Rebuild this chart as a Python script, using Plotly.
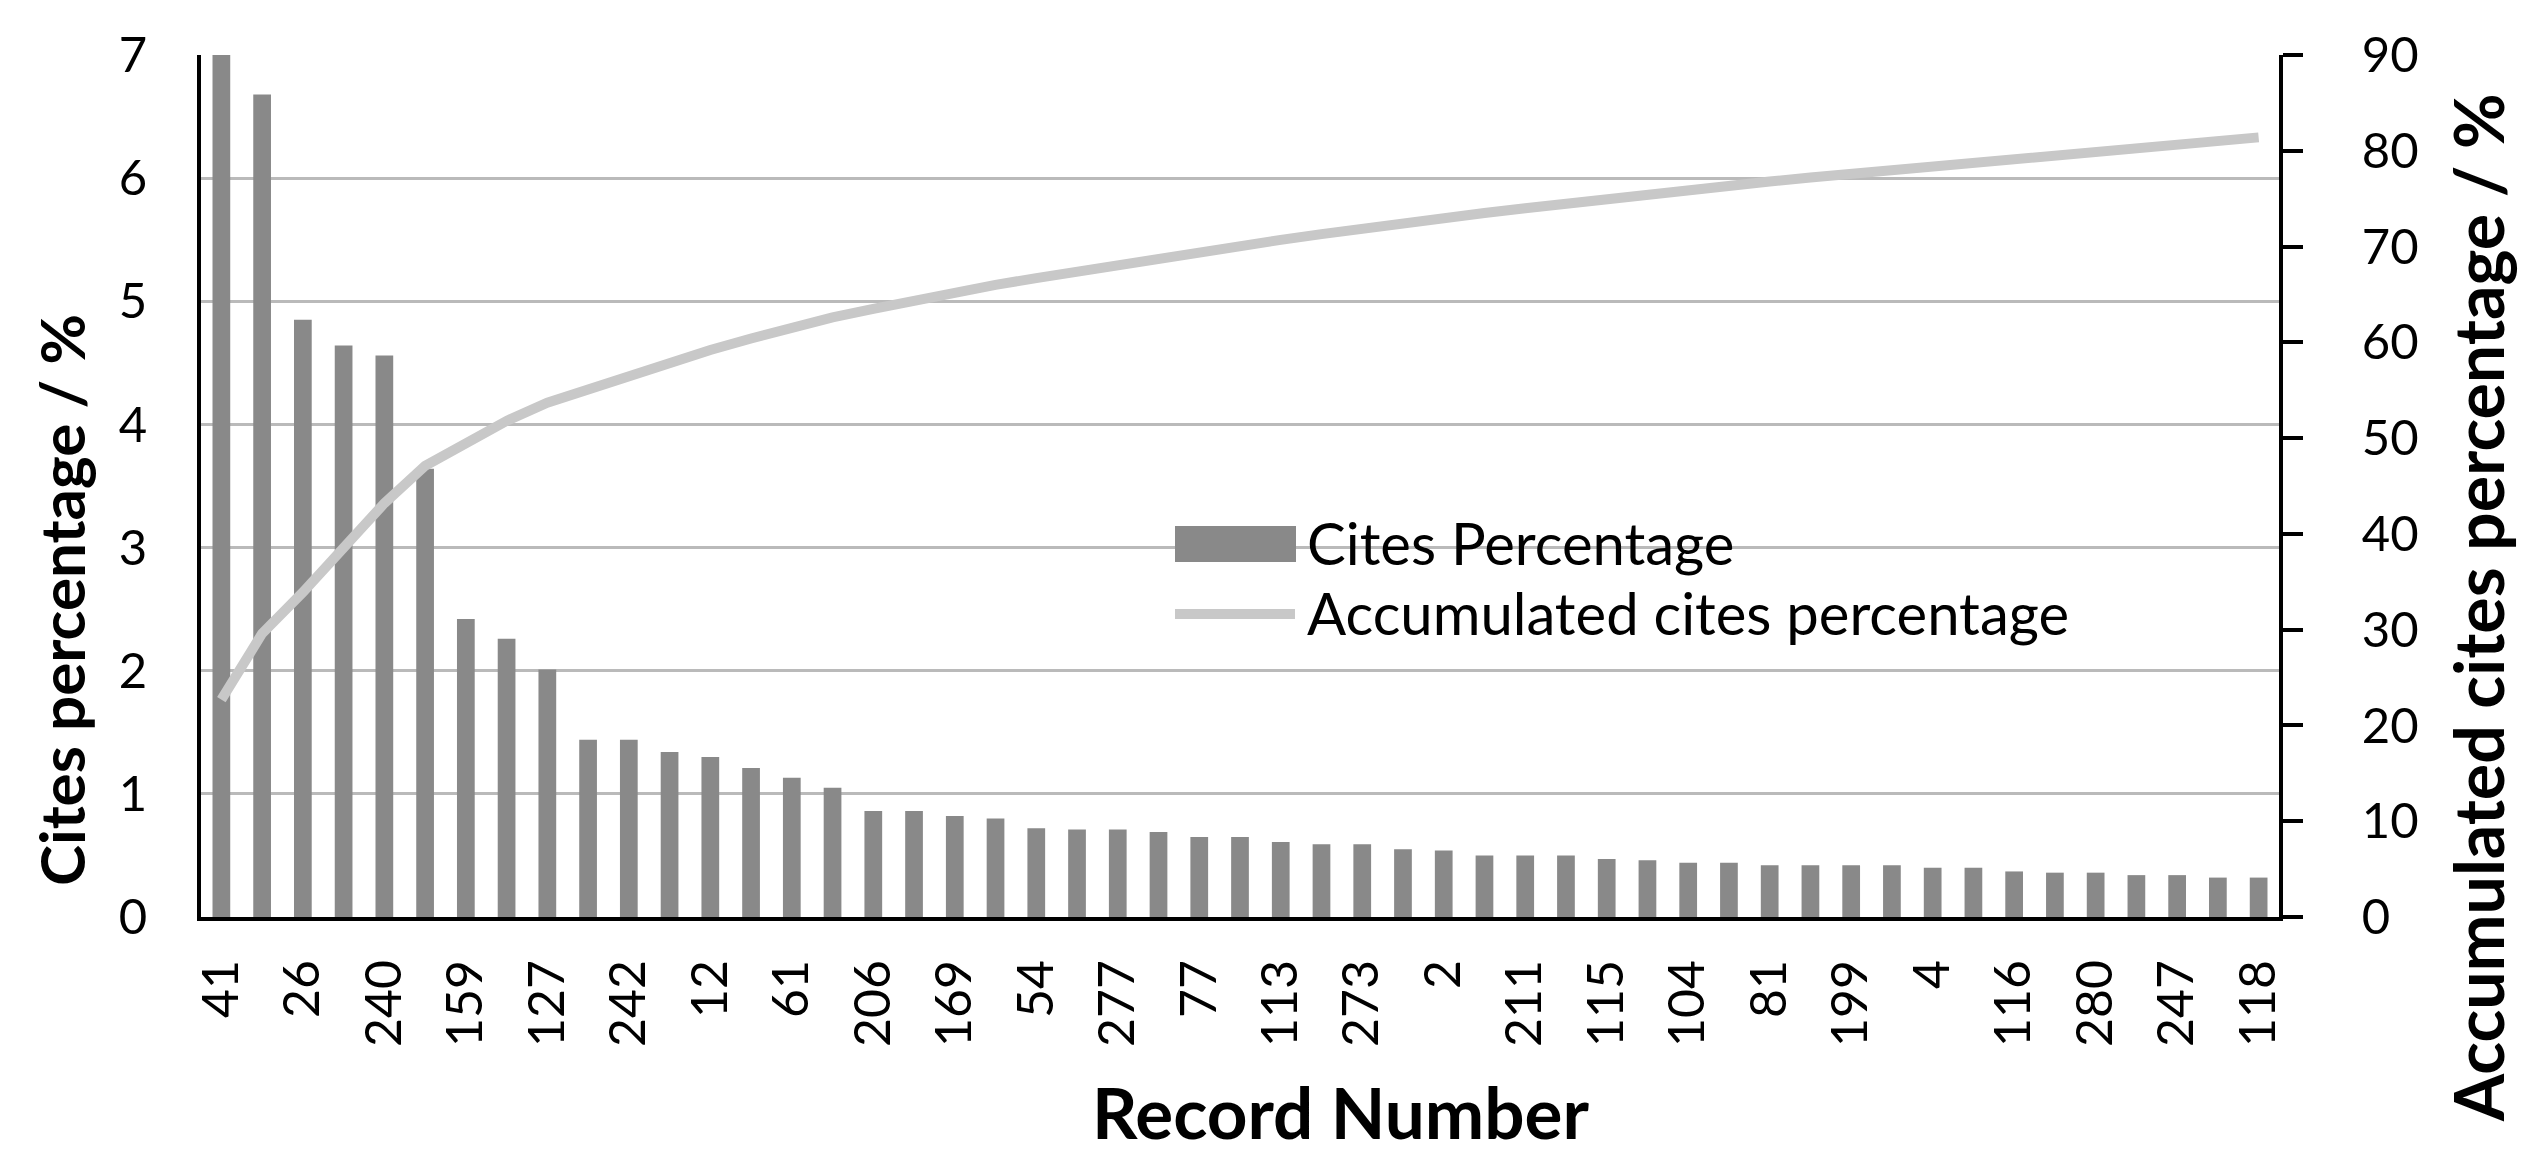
import plotly.graph_objects as go

# ---- data ----
record_labels = ["41", "26", "240", "159", "127", "242", "12", "61", "206", "169",
                 "54", "277", "77", "113", "273", "2", "211", "115", "104", "81",
                 "199", "4", "116", "280", "247", "118"]
positions = list(range(51))          # 51 records; every other one is labelled
label_positions = positions[::2]

cites_pct = [22.65, 6.68, 4.85, 4.64, 4.56, 3.64, 2.42, 2.26, 2.01, 1.44,
             1.44, 1.34, 1.30, 1.21, 1.13, 1.05, 0.86, 0.86, 0.82, 0.80,
             0.72, 0.71, 0.71, 0.69, 0.65, 0.65, 0.61, 0.59, 0.59, 0.55,
             0.54, 0.50, 0.50, 0.50, 0.47, 0.46, 0.44, 0.44, 0.42, 0.42,
             0.42, 0.42, 0.40, 0.40, 0.37, 0.36, 0.36, 0.34, 0.34, 0.32,
             0.32]

accum_pct = [22.7, 29.6, 33.9, 38.6, 43.2, 47.1, 49.5, 51.8, 53.7, 55.1,
             56.5, 57.9, 59.2, 60.4, 61.6, 62.6, 63.5, 64.4, 65.2, 66.0,
             66.7, 67.4, 68.1, 68.8, 69.5, 70.1, 70.7, 71.3, 71.9, 72.5,
             73.0, 73.5, 74.0, 74.5, 75.0, 75.5, 75.9, 76.4, 76.8, 77.2,
             77.6, 78.0, 78.4, 78.8, 79.2, 79.6, 80.0, 80.3, 80.7, 81.0,
             81.4]

left_ticks = list(range(0, 8))
right_ticks = list(range(0, 100, 10))

# ---- style ----
FONT = "Lato"
BAR_COLOR = "#898989"
LINE_COLOR = "#c8c8c8"
GRID_COLOR = "#bababa"

OFF = 8                      # default page body margin
W, H = 2532 - 2 * OFF, 1164 - 2 * OFF
PL, PR, PT, PB = 201, 2279, 55, 917      # plot area in page pixels
ML, MR, MT, MB = PL - OFF, W - (PR - OFF), PT - OFF, H - (PB - OFF)


def px_x(p):
    return (p - PL) / (PR - PL)


def px_y(p):
    return (PB - p) / (PB - PT)


fig = go.Figure()
fig.add_trace(go.Bar(
    x=positions, y=cites_pct, name="Cites Percentage",
    marker=dict(color=BAR_COLOR, line=dict(width=0)),
    yaxis="y", showlegend=False,
))
fig.add_trace(go.Scatter(
    x=positions, y=accum_pct, name="Accumulated cites percentage",
    mode="lines", line=dict(color=LINE_COLOR, width=10),
    yaxis="y2", showlegend=False,
))

fig.update_layout(
    width=W, height=H,
    margin=dict(l=ML, r=MR, t=MT, b=MB, pad=0),
    paper_bgcolor="white", plot_bgcolor="white",
    font=dict(family=FONT, color="black"),
    bargap=0.565,
    xaxis=dict(
        range=[-0.5, 50.5],
        tickmode="array", tickvals=label_positions, ticktext=record_labels,
        tickangle=-90, tickfont=dict(size=50, family=FONT),
        ticks="", showgrid=False, zeroline=False,
        showline=True, linecolor="black", linewidth=4,
        ticklabelstandoff=19,
    ),
    yaxis=dict(
        range=[0, 7], tickmode="array", tickvals=left_ticks,
        tickfont=dict(size=49, family=FONT),
        ticks="", showgrid=True, gridcolor=GRID_COLOR, gridwidth=3,
        zeroline=False, showline=True, linecolor="black", linewidth=4,
        ticklabelstandoff=40,
    ),
    yaxis2=dict(
        range=[0, 90], tickmode="array", tickvals=right_ticks,
        overlaying="y", side="right", anchor="x",
        tickfont=dict(size=49, family=FONT),
        ticks="outside", ticklen=20, tickwidth=4, tickcolor="black",
        showgrid=False, zeroline=False,
        showline=True, linecolor="black", linewidth=4,
        ticklabelstandoff=49,
    ),
)

# ---- axis titles (placed where the reference has them) ----
fig.add_annotation(text="<b>Record Number</b>", xref="paper", yref="paper",
                   x=px_x(1340), y=px_y(1111), xanchor="center", yanchor="middle",
                   showarrow=False, font=dict(size=71, family=FONT, color="black"))
fig.add_annotation(text="<b>Cites percentage / %</b>", xref="paper", yref="paper",
                   x=px_x(61), y=px_y(600), xanchor="center", yanchor="middle",
                   textangle=-90, showarrow=False,
                   font=dict(size=62, family=FONT, color="black"))
fig.add_annotation(text="<b>Accumulated cites percentage / %</b>", xref="paper", yref="paper",
                   x=px_x(2477), y=px_y(608), xanchor="center", yanchor="middle",
                   textangle=-90, showarrow=False,
                   font=dict(size=68, family=FONT, color="black"))

# ---- legend drawn inside the plot (as in the reference) ----
fig.add_shape(type="rect", xref="paper", yref="paper",
              x0=px_x(1175), x1=px_x(1296), y0=px_y(562), y1=px_y(526),
              fillcolor=BAR_COLOR, line=dict(width=0), layer="above")
fig.add_shape(type="line", xref="paper", yref="paper",
              x0=px_x(1175), x1=px_x(1295), y0=px_y(614), y1=px_y(614),
              line=dict(color=LINE_COLOR, width=10), layer="above")
fig.add_annotation(text="Cites Percentage", xref="paper", yref="paper",
                   x=px_x(1305), y=px_y(542), xanchor="left", yanchor="middle",
                   showarrow=False, font=dict(size=58, family=FONT, color="black"))
fig.add_annotation(text="Accumulated cites percentage", xref="paper", yref="paper",
                   x=px_x(1305), y=px_y(612), xanchor="left", yanchor="middle",
                   showarrow=False, font=dict(size=58, family=FONT, color="black"))

fig.write_html("out.html")
